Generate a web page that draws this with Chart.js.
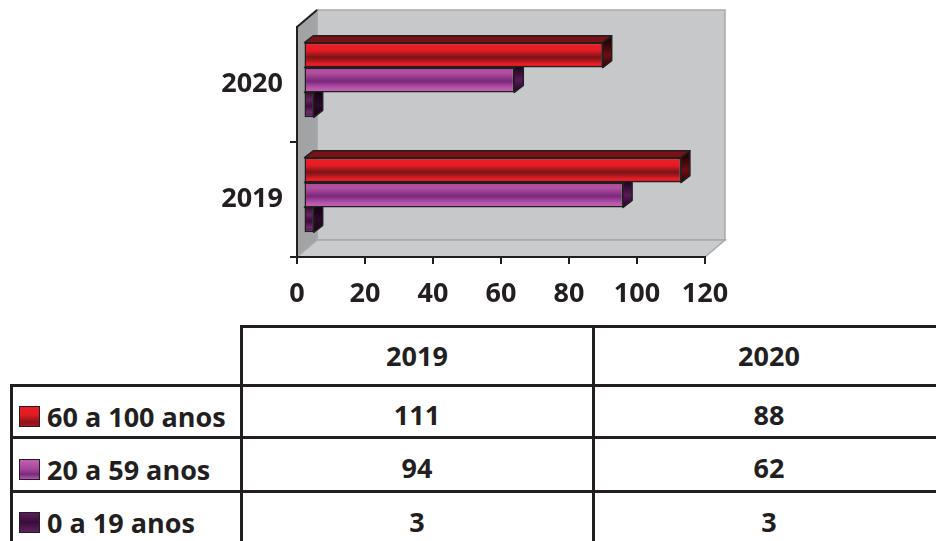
<!DOCTYPE html>
<html><head><meta charset="utf-8">
<script src="https://cdn.jsdelivr.net/npm/chart.js@4/dist/chart.umd.min.js"></script>
<style>
html,body{margin:0;padding:0;background:#fff;}
#wrap{position:relative;width:936px;height:541px;overflow:hidden;font-family:"Open Sans",Lato,sans-serif;font-weight:700;color:#231f20;}
#c{position:absolute;left:0;top:0;}
.ln{position:absolute;background:#231f20;}
.t{position:absolute;font-size:27px;line-height:1;white-space:nowrap;transform:translate(-50%,-50%);}
.lbl{position:absolute;font-size:27px;line-height:1;white-space:nowrap;transform:translateY(-50%);}
.sw{position:absolute;width:19px;height:19px;border:1.5px solid #231f20;}
</style></head>
<body><div id="wrap"><canvas id="c" width="936" height="320"></canvas><div id="tbl"></div></div>
<script>
const categories = ['2019', '2020'];
const seriesNames = ['60 a 100 anos', '20 a 59 anos', '0 a 19 anos'];
const values60to100 = [111, 88];
const values20to59 = [94, 62];
const values0to19 = [3, 3];
const xTickValues = [0, 20, 40, 60, 80, 100, 120];

const seriesValues = [values60to100, values20to59, values0to19];
const styles = [
  {stops:[[0,'#c81a20'],[0.12,'#ee1d25'],[0.32,'#e21c24'],[0.58,'#7c1316'],[0.72,'#a9181d'],[0.86,'#ee1d25'],[1,'#c41a20']],
   top:'#7a1114', side:['#2a0506','#6e0e11','#2a0506'], swatch:'linear-gradient(#ee1d25 0%,#e01c24 40%,#8a1518 80%,#b0181c 100%)'},
  {stops:[[0,'#a9479c'],[0.2,'#b4519f'],[0.55,'#7a287c'],[0.8,'#b552a8'],[1,'#c468b6']],
   top:'#5e1a5c', side:['#1e061e','#5a1a5a','#1e061e'], swatch:'linear-gradient(#c060b0 0%,#a8489e 45%,#7a2a7c 75%,#b555aa 100%)'},
  {stops:[[0,'#3a0c3a'],[0.3,'#66245f'],[0.55,'#3c0c3c'],[0.8,'#6e2a6c'],[1,'#4a1448']],
   top:'#2c0a2c', side:['#120312','#2c0a2c','#120312'], swatch:'linear-gradient(#5a1f5a 0%,#3a0c3a 50%,#5e2460 100%)'}
];
const CAT_PCT = 0.649;
const FONT = {family:'"Open Sans", Lato, sans-serif', size:27, weight:'bold'};
const INK = '#231f20';
const BAR_SHIFT = {dx:6.5, dy:-4.5};
const BAR_DEPTH = {dx:9, dy:-7};

function barGradient(c, stops){
  const chart = c.chart, ys = chart.scales && chart.scales.y;
  if (!ys || c.dataIndex === undefined || c.datasetIndex === undefined) return stops[2][1];
  const center = ys.getPixelForValue(c.dataIndex);
  const cat = Math.abs(ys.getPixelForValue(1) - ys.getPixelForValue(0));
  const size = cat * CAT_PCT, chunk = size / 3;
  const top = center - size / 2 + chunk * c.datasetIndex;
  if (!isFinite(top) || !isFinite(chunk) || chunk <= 0) return stops[2][1];
  const g = chart.ctx.createLinearGradient(0, top, 0, top + chunk);
  stops.forEach(s => g.addColorStop(s[0], s[1]));
  return g;
}

function poly(ctx, pts, fill){
  ctx.beginPath();
  ctx.moveTo(pts[0][0], pts[0][1]);
  for (let i = 1; i < pts.length; i++) ctx.lineTo(pts[i][0], pts[i][1]);
  ctx.closePath();
  ctx.fillStyle = fill; ctx.fill();
}

const threeD = {
  id:'threeD',
  beforeDraw(chart){
    const {ctx, chartArea:a} = chart;
    const dx = 20, dyT = -17, dyB = -17;
    ctx.save();
    ctx.lineWidth = 1.5; ctx.strokeStyle = '#a8a8aa';
    poly(ctx, [[a.left+dx,a.top+dyT],[a.right+dx,a.top+dyT],[a.right+dx,a.bottom+dyB],[a.left+dx,a.bottom+dyB]], '#c7c8ca');
    ctx.stroke();
    poly(ctx, [[a.left,a.top],[a.left+dx,a.top+dyT],[a.left+dx,a.bottom+dyB],[a.left,a.bottom]], '#a2a3a5');
    ctx.stroke();
    poly(ctx, [[a.left,a.bottom],[a.left+dx,a.bottom+dyB],[a.right+dx,a.bottom+dyB],[a.right,a.bottom]], '#cacbcd');
    ctx.stroke();
    ctx.beginPath(); ctx.moveTo(a.left, a.top); ctx.lineTo(a.left+dx, a.top+dyT);
    ctx.strokeStyle = INK; ctx.lineWidth = 2; ctx.stroke();
    ctx.restore();
  },
  beforeDatasetsDraw(chart){
    chart.ctx.save();
    chart.ctx.translate(BAR_SHIFT.dx, BAR_SHIFT.dy);
  },
  afterDatasetDraw(chart, args){
    const ctx = chart.ctx, st = styles[args.index];
    ctx.save();
    ctx.lineWidth = 1.5; ctx.strokeStyle = INK; ctx.lineJoin = 'round';
    args.meta.data.forEach(el => {
      const p = el.getProps(['x','y','base','height'], true);
      if (![p.x,p.y,p.base,p.height].every(isFinite)) return;
      const top = p.y - p.height/2, bot = p.y + p.height/2;
      const x0 = Math.min(p.base, p.x), x1 = Math.max(p.base, p.x);
      const dx = BAR_DEPTH.dx, dy = BAR_DEPTH.dy;
      poly(ctx, [[x0,top],[x0+dx,top+dy],[x1+dx,top+dy],[x1,top]], st.top);
      ctx.stroke();
      const g = ctx.createLinearGradient(0, top, 0, bot);
      g.addColorStop(0, st.side[0]); g.addColorStop(0.5, st.side[1]); g.addColorStop(1, st.side[2]);
      poly(ctx, [[x1,top],[x1+dx,top+dy],[x1+dx,bot+dy],[x1,bot]], g);
      ctx.stroke();
    });
    ctx.restore();
  },
  afterDatasetsDraw(chart){ chart.ctx.restore(); }
};

// data table
const tbl = document.getElementById('tbl');
function addLine(x, y, w, h){
  const d = document.createElement('div'); d.className = 'ln';
  d.style.left = x+'px'; d.style.top = y+'px'; d.style.width = w+'px'; d.style.height = h+'px';
  tbl.appendChild(d);
}
function addText(cls, txt, x, y){
  const d = document.createElement('div'); d.className = cls; d.textContent = txt;
  d.style.left = x+'px'; d.style.top = y+'px'; tbl.appendChild(d);
}
const LW = 2.5;
addLine(240, 325, 700, LW);
[384, 436, 490].forEach(y => addLine(10, y, 930, LW));
addLine(240, 325, LW, 220);
addLine(592, 325, LW, 220);
addLine(10, 384, LW, 160);
const colCenters = [417, 769];
categories.forEach((c, j) => addText('t', c, colCenters[j], 355));
const rowValueY = [413.5, 467, 520.5];
const rowLabelY = [416, 468.5, 522];
seriesNames.forEach((name, i) => {
  const sw = document.createElement('div'); sw.className = 'sw';
  sw.style.left = '19px'; sw.style.top = (rowLabelY[i] - 10) + 'px';
  sw.style.background = styles[i].swatch; tbl.appendChild(sw);
  addText('lbl', name, 47, rowLabelY[i]);
  categories.forEach((c, j) => addText('t', String(seriesValues[i][j]), colCenters[j], rowValueY[i]));
});

const chart = new Chart(document.getElementById('c'), {
  type:'bar',
  data:{
    labels:categories,
    datasets:seriesNames.map((name, i) => ({
      label:name,
      data:seriesValues[i],
      backgroundColor:(c) => barGradient(c, styles[i].stops),
      borderColor:INK, borderWidth:1.5, borderSkipped:false,
      categoryPercentage:CAT_PCT, barPercentage:1, clip:false
    }))
  },
  options:{
    indexAxis:'y', responsive:false, animation:false, events:[],
    layout:{padding:{top:27, right:231, left:0, bottom:0}},
    plugins:{legend:{display:false}, tooltip:{enabled:false}},
    scales:{
      x:{
        min:0, max:120,
        afterBuildTicks(s){ s.ticks = xTickValues.map(v => ({value:v})); },
        ticks:{font:FONT, color:INK, padding:14, maxRotation:0, autoSkip:false},
        grid:{drawOnChartArea:false, drawTicks:true, tickLength:7, color:INK, lineWidth:2},
        border:{color:INK, width:2},
        afterFit(s){ s.height = 63; }
      },
      y:{
        reverse:true,
        ticks:{font:FONT, color:INK, padding:7},
        grid:{drawOnChartArea:false, drawTicks:true, tickLength:7, lineWidth:2, offset:true,
              color:(c) => (c.type === 'tick' && c.index !== undefined) ? INK : 'rgba(0,0,0,0)'},
        border:{color:INK, width:2},
        afterFit(s){ s.width = 297; }
      }
    }
  },
  plugins:[threeD]
});
</script></body></html>
